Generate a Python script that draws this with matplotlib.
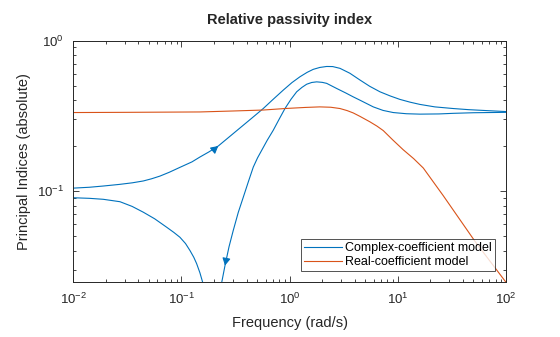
import numpy as np
import matplotlib
matplotlib.use("Agg")
import matplotlib.pyplot as plt
from matplotlib.ticker import LogLocator, NullFormatter

plt.rcParams['font.family'] = ['Liberation Sans', 'DejaVu Sans']
plt.rcParams['mathtext.fontset'] = 'custom'
plt.rcParams['mathtext.rm'] = 'Liberation Sans'
plt.rcParams['mathtext.it'] = 'Liberation Sans:italic'
plt.rcParams['mathtext.bf'] = 'Liberation Sans:bold'

# ---- data ----
# Complex-coefficient model, upper branch
cA_w = [0.01, 0.0141, 0.0189, 0.0266, 0.035, 0.0444, 0.053, 0.0632, 0.077, 0.0968,
        0.125, 0.148, 0.18, 0.219, 0.275, 0.347, 0.45, 0.570, 0.70, 0.873,
        1.05, 1.245, 1.45, 1.652, 1.9, 2.198, 2.5, 2.92, 3.6, 4.47,
        5.5, 6.84, 8.5, 10.45, 13, 16.0, 22, 32.5, 45, 66.2, 100]
cA_v = [0.1044, 0.1058, 0.1078, 0.1105, 0.1132, 0.1165, 0.1205, 0.1255, 0.133, 0.1435,
        0.156, 0.168, 0.182, 0.199, 0.228, 0.262, 0.306, 0.353, 0.405, 0.468,
        0.525, 0.574, 0.614, 0.643, 0.662, 0.672, 0.671, 0.653, 0.606, 0.546,
        0.496, 0.456, 0.428, 0.406, 0.389, 0.376, 0.362, 0.353, 0.347, 0.342, 0.337]
# Complex-coefficient model, lower branch (low frequency part)
cB_w = [0.01, 0.0141, 0.0189, 0.027, 0.035, 0.0444, 0.0565, 0.0729, 0.085, 0.0968,
        0.109, 0.12, 0.13, 0.138, 0.148, 0.157]
cB_v = [0.0901, 0.0893, 0.0880, 0.0848, 0.0789, 0.0722, 0.0653, 0.0574, 0.0530, 0.0492,
        0.0447, 0.0401, 0.0362, 0.0329, 0.0286, 0.0247]
# Complex-coefficient model, lower branch (high frequency part)
cC_w = [0.2356, 0.2525, 0.275, 0.301, 0.335, 0.373, 0.415, 0.461, 0.505, 0.551,
        0.62, 0.705, 0.80, 0.905, 1.03, 1.161, 1.3, 1.436, 1.6, 1.778,
        2.0, 2.198, 2.718, 3.3, 3.87, 4.47, 5.93, 7.3, 9.06, 12,
        16.0, 24, 32.5, 50, 100]
cC_v = [0.0247, 0.0319, 0.0425, 0.0546, 0.072, 0.091, 0.115, 0.144, 0.166, 0.186,
        0.217, 0.253, 0.300, 0.353, 0.407, 0.456, 0.488, 0.512, 0.526, 0.531,
        0.527, 0.519, 0.480, 0.448, 0.422, 0.401, 0.362, 0.343, 0.332, 0.326,
        0.324, 0.325, 0.328, 0.331, 0.333]
# Real-coefficient model
r_w = [0.01, 0.03, 0.148, 0.301, 0.570, 0.905, 1.40, 1.9, 2.4, 2.92,
       3.4, 3.87, 4.47, 5.52, 6.4, 7.33, 9.0, 11.2, 14, 17.2,
       26.3, 51.6, 100]
r_v = [0.332, 0.333, 0.335, 0.340, 0.345, 0.353, 0.359, 0.362, 0.360, 0.353,
       0.342, 0.330, 0.313, 0.288, 0.270, 0.252, 0.218, 0.188, 0.164, 0.142,
       0.093, 0.0463, 0.0247]

# direction arrows: (curve, index of arrow point, index of the point it heads to)
arrow_specs = [("A", 13, 14), ("C", 1, 0)]

blue = '#0072BD'
orange = '#D95319'
axcol = '#262626'

W, H = 560, 337
fig = plt.figure(figsize=(W / 100, H / 100), dpi=100)
ax = fig.add_axes([73.3 / W, 1 - 282.3 / H, (506 - 73.3) / W, (282.3 - 40.5) / H])

lw = 0.8
ax.plot(cA_w, cA_v, color=blue, lw=lw, label='Complex-coefficient model')
ax.plot(cB_w, cB_v, color=blue, lw=lw)
ax.plot(cC_w, cC_v, color=blue, lw=lw)
ax.plot(r_w, r_v, color=orange, lw=lw, label='Real-coefficient model')

ax.set_xscale('log')
ax.set_yscale('log')
ax.set_xlim(1e-2, 1e2)
ax.set_ylim(0.0247, 1.0)

curves = {"A": (cA_w, cA_v), "C": (cC_w, cC_v)}
fig.canvas.draw()
for name, i, j in arrow_specs:
    w, v = curves[name]
    p0 = ax.transData.transform((w[i], v[i]))
    p1 = ax.transData.transform((w[j], v[j]))
    d = (p1 - p0) / np.hypot(*(p1 - p0))
    ax.annotate('', xy=(w[i], v[i]), xycoords='data',
                xytext=(-d[0] * 1.5, -d[1] * 1.5), textcoords='offset points',
                arrowprops=dict(arrowstyle='-|>,head_length=0.55,head_width=0.3',
                                color=blue, lw=0.8, shrinkA=0, shrinkB=0,
                                mutation_scale=8))

ax.xaxis.set_major_locator(LogLocator(base=10, numticks=10))
ax.xaxis.set_minor_locator(LogLocator(base=10, subs=np.arange(2, 10), numticks=20))
ax.xaxis.set_minor_formatter(NullFormatter())
ax.yaxis.set_major_locator(LogLocator(base=10, numticks=10))
ax.yaxis.set_minor_locator(LogLocator(base=10, subs=np.arange(2, 10), numticks=20))
ax.yaxis.set_minor_formatter(NullFormatter())

ax.tick_params(which='both', direction='in', top=True, right=True, colors=axcol,
               width=0.6, labelsize=9.5)
ax.tick_params(which='major', length=4.5)
ax.tick_params(which='minor', length=2.5)
ax.tick_params(axis='x', which='major', pad=7)
ax.tick_params(axis='y', which='major', pad=7)
for s in ax.spines.values():
    s.set_color(axcol)
    s.set_linewidth(0.7)

ax.set_title('Relative passivity index', fontsize=10.5, fontweight='bold', color=axcol, pad=12)
ax.set_xlabel('Frequency (rad/s)', fontsize=10.5, color=axcol, labelpad=6)
ax.set_ylabel('Principal Indices (absolute)', fontsize=10.5, color=axcol, labelpad=4)

leg = ax.legend(loc='lower right', bbox_to_anchor=(0.9753, 0.0455), borderaxespad=0,
                fontsize=9, frameon=True, fancybox=False, handlelength=3.0,
                handletextpad=0.3, borderpad=0.25, labelspacing=0.15)
leg.get_frame().set_edgecolor(axcol)
leg.get_frame().set_linewidth(0.7)

fig.savefig('out.png', dpi=100)
